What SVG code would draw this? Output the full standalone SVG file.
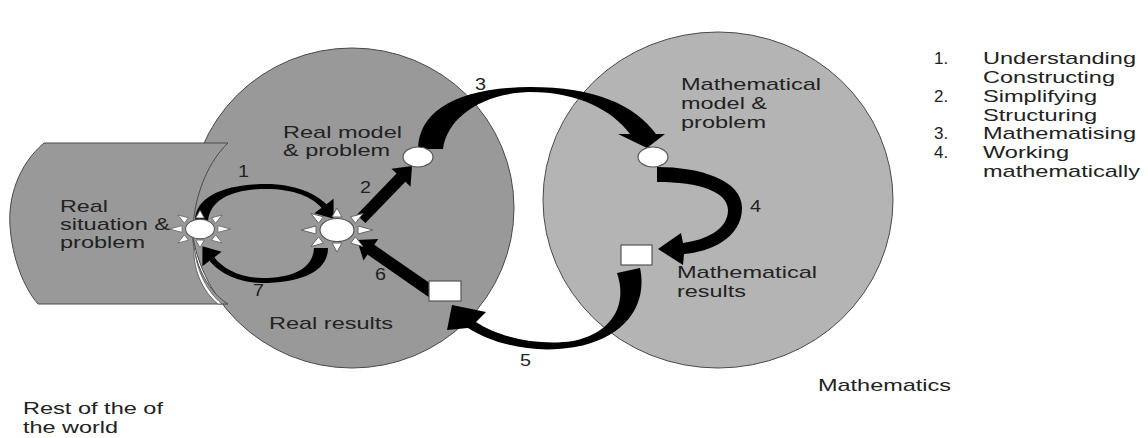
<svg xmlns="http://www.w3.org/2000/svg" width="1148" height="438" viewBox="0 0 1148 438">
<style>
.t{font-family:"Liberation Sans",Arial,sans-serif;font-size:17px;fill:#222}
.n{font-family:"Liberation Sans",Arial,sans-serif;font-size:16px;fill:#222}
.bg{stroke:#4a4a4a;stroke-width:1}
.node{fill:#fff;stroke:#555;stroke-width:1.2}
.ray{fill:#fff;stroke:#666;stroke-width:1}
.arr{fill:#000;stroke:none}
</style>
<defs>
<g id="sun">
<polygon class="ray" points="21,-4 21,4 36,0"/>
<polygon class="ray" points="-21,-4 -21,4 -36,0"/>
<polygon class="ray" points="-5,13 5,13 0,22"/>
<polygon class="ray" points="-5,-13 5,-13 0,-22"/>
<polygon class="ray" points="18.4,-6.8 13.6,-13.2 26,-16.5"/>
<polygon class="ray" points="-18.4,-6.8 -13.6,-13.2 -26,-16.5"/>
<polygon class="ray" points="18.4,6.8 13.6,13.2 26,16.5"/>
<polygon class="ray" points="-18.4,6.8 -13.6,13.2 -26,16.5"/>
<ellipse class="node" cx="0" cy="0" rx="17" ry="11.5"/>
</g>
</defs>
<rect width="1148" height="438" fill="#fff"/>
<g id="background">
<ellipse class="bg" cx="718" cy="200" rx="175" ry="168" fill="#b4b4b4"/>
<ellipse class="bg" cx="352" cy="208" rx="162" ry="160" fill="#999"/>
<path class="bg" d="M228,143 L44,143 C18,165 8,198 10,226 C12,258 24,288 38,304 L228,304 C205,290 190,255 193,225 C196,190 210,160 228,143 Z" fill="#999"/>
<path d="M194,243 C195,266 205,290 222,304 L218,304 C202,291 192,268 194,243 Z" fill="#fff" stroke="#555" stroke-width="0.8"/>
</g>
<g id="connectors">
<path class="arr" d="M195,221 C195,196 226,184 266,184 C296,184 316,194 326.4,204.2 L333.6,198.8 L333.6,218.8 L314.4,213.2 L321.6,207.8 C312,197 294,189 266,189 C232,189 210,200 208,221 Z"/>
<path class="arr" d="M328,248 C328,272 300,283 262,283 C238,283 218,272 209.6,260.8 L202.4,266.2 L202.4,246.2 L221.6,251.8 L214.4,257.2 C222,268 240,278 262,278 C294,278 313,268 314,248 Z"/>
<polygon class="arr" points="356.6,214.9 396.6,173.6 391.5,168.7 412,166 410.5,186.7 405.4,181.8 365.4,223.1"/>
<polygon class="arr" points="435.4,287.1 374.3,244.8 378.3,239 357,240 363.5,260.4 367.5,254.6 428.6,296.9"/>
<path class="arr" d="M418,149 C419,112 455,88 530,87 C595,87 635,105 656,134 L665,134 L647,148 L618,134 L630,134 C612,110 578,92 530,92 C483,93 447,117 443,149 Z"/>
<path class="arr" d="M657,167 C700,167 742,180 742,208 C742,238 710,252 684,254 L683,265 L658,249 L681,233 L683,243 C705,240 728,230 728,210 C728,192 700,182 657,182 Z"/>
<path class="arr" d="M640,268 C648,305 625,338 575,347 C535,354 495,345 468,328 L447,330 L452,305 L486,312 L476,322 C500,338 540,346 573,341 C612,333 628,305 617,273 Z"/>
<text class="n" x="238" y="177" textLength="11" lengthAdjust="spacingAndGlyphs">1</text>
<text class="n" x="360" y="193" textLength="11" lengthAdjust="spacingAndGlyphs">2</text>
<text class="n" x="475" y="90" textLength="11" lengthAdjust="spacingAndGlyphs">3</text>
<text class="n" x="750" y="212" textLength="11" lengthAdjust="spacingAndGlyphs">4</text>
<text class="n" x="520" y="366" textLength="11" lengthAdjust="spacingAndGlyphs">5</text>
<text class="n" x="375" y="280" textLength="11" lengthAdjust="spacingAndGlyphs">6</text>
<text class="n" x="253" y="296" textLength="11" lengthAdjust="spacingAndGlyphs">7</text>
</g>
<g id="node-real-situation">
<use href="#sun" transform="translate(200,229) scale(0.85)"/>
<text class="t" x="60" y="212" textLength="48" lengthAdjust="spacingAndGlyphs">Real</text>
<text class="t" x="60" y="230" textLength="110" lengthAdjust="spacingAndGlyphs">situation &amp;</text>
<text class="t" x="60" y="248" textLength="85" lengthAdjust="spacingAndGlyphs">problem</text>
</g>
<g id="node-real-hub">
<use href="#sun" transform="translate(337,230)"/>
</g>
<g id="node-real-model">
<ellipse class="node" cx="418" cy="157" rx="15" ry="10"/>
<text class="t" x="283" y="138" textLength="119" lengthAdjust="spacingAndGlyphs">Real model</text>
<text class="t" x="283" y="156" textLength="107" lengthAdjust="spacingAndGlyphs">&amp; problem</text>
</g>
<g id="node-math-model">
<ellipse class="node" cx="653" cy="157" rx="15" ry="10"/>
<text class="t" x="681" y="90" textLength="140" lengthAdjust="spacingAndGlyphs">Mathematical</text>
<text class="t" x="681" y="109" textLength="86" lengthAdjust="spacingAndGlyphs">model &amp;</text>
<text class="t" x="681" y="128" textLength="85" lengthAdjust="spacingAndGlyphs">problem</text>
</g>
<g id="node-math-results">
<rect class="node" x="621" y="245" width="31" height="20"/>
<text class="t" x="677" y="278" textLength="140" lengthAdjust="spacingAndGlyphs">Mathematical</text>
<text class="t" x="677" y="297" textLength="69" lengthAdjust="spacingAndGlyphs">results</text>
</g>
<g id="node-real-results">
<rect class="node" x="429" y="281" width="32" height="20"/>
<text class="t" x="269" y="329" textLength="124" lengthAdjust="spacingAndGlyphs">Real results</text>
</g>
<g id="region-labels">
<text class="t" x="818" y="391" textLength="133" lengthAdjust="spacingAndGlyphs">Mathematics</text>
<text class="t" x="23" y="414" textLength="140" lengthAdjust="spacingAndGlyphs">Rest of the of</text>
<text class="t" x="23" y="433" textLength="95" lengthAdjust="spacingAndGlyphs">the world</text>
</g>
<g id="legend">
<text class="t" x="934" y="64">1.</text>
<text class="t" x="983" y="64" textLength="153" lengthAdjust="spacingAndGlyphs">Understanding</text>
<text class="t" x="983" y="83" textLength="132" lengthAdjust="spacingAndGlyphs">Constructing</text>
<text class="t" x="934" y="102">2.</text>
<text class="t" x="983" y="102" textLength="114" lengthAdjust="spacingAndGlyphs">Simplifying</text>
<text class="t" x="983" y="121" textLength="114" lengthAdjust="spacingAndGlyphs">Structuring</text>
<text class="t" x="934" y="139">3.</text>
<text class="t" x="983" y="139" textLength="153" lengthAdjust="spacingAndGlyphs">Mathematising</text>
<text class="t" x="934" y="158">4.</text>
<text class="t" x="983" y="158" textLength="86" lengthAdjust="spacingAndGlyphs">Working</text>
<text class="t" x="983" y="177" textLength="157" lengthAdjust="spacingAndGlyphs">mathematically</text>
</g>
</svg>
